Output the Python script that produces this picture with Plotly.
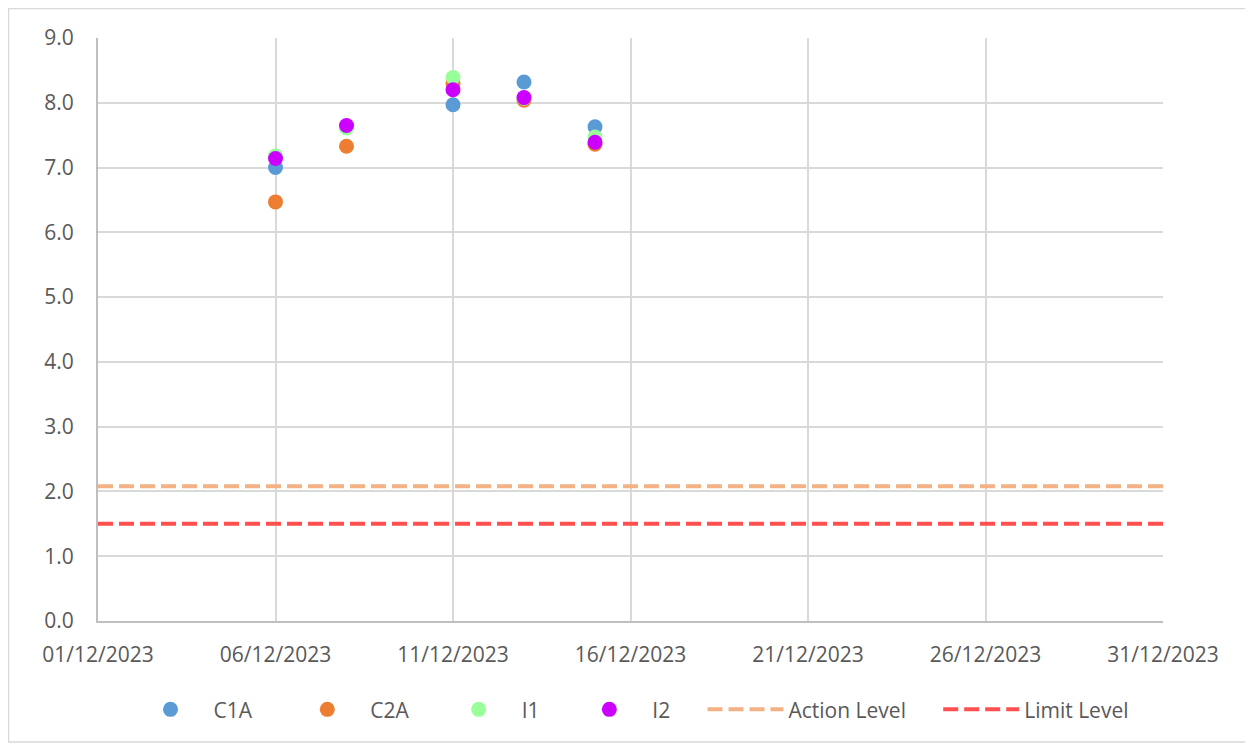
import plotly.graph_objects as go

dates = ["2023-12-06", "2023-12-08", "2023-12-11", "2023-12-13", "2023-12-15"]
c1a = [7.00, 7.62, 7.97, 8.32, 7.63]
c2a = [6.47, 7.33, 8.30, 8.04, 7.36]
i1 = [7.18, 7.61, 8.39, 8.07, 7.47]
i2 = [7.14, 7.65, 8.20, 8.08, 7.39]
level_dates = ["2023-12-01", "2023-12-31"]
action_level = [2.08, 2.08]
limit_level = [1.5, 1.5]

NB = "\u00a0"
# page body has an 8px margin, so the figure is offset by 8px
W, H = 1245, 741
ML, MR, MT, MB = 90, 90, 30, 128
pw, ph = W - ML - MR, H - MT - MB

fig = go.Figure()
series = [("C1A", c1a, "#5B9BD5", 5), ("C2A", c2a, "#ED7D31", 4),
          ("I1", i1, "#99FF99", 4), ("I2", i2, "#CC00FF", 5)]
for name, vals, col, pad in series:
    fig.add_trace(go.Scatter(x=dates, y=vals, name=name + NB * pad, mode="markers",
                             marker=dict(size=15, color=col, line=dict(width=0))))
fig.add_trace(go.Scatter(x=level_dates, y=action_level, name="Action Level" + NB * 5, mode="lines",
                         line=dict(color="#F4B183", width=4, dash="15px,6px")))
fig.add_trace(go.Scatter(x=level_dates, y=limit_level, name="Limit Level", mode="lines",
                         line=dict(color="#FF5050", width=4, dash="15px,6px")))

font = dict(family="Open Sans, sans-serif", size=21, color="#595959")
fig.update_layout(
    width=W, height=H,
    margin=dict(l=ML, r=MR, t=MT, b=MB),
    paper_bgcolor="white", plot_bgcolor="white",
    font=font,
    legend=dict(orientation="h", x=0.5, xanchor="center", y=-0.117, yanchor="top",
                font=font, itemwidth=76, tracegroupgap=0),
    showlegend=True,
)
fig.update_xaxes(type="date", range=["2023-12-01", "2023-12-31"],
                 tick0="2023-12-01", dtick=5 * 86400000, tickformat="%d/%m/%Y",
                 showgrid=True, gridcolor="#D9D9D9", gridwidth=2,
                 showline=True, linecolor="#BFBFBF", linewidth=2,
                 zeroline=False, ticks="", ticklabelstandoff=14,
                 tickfont=font, fixedrange=True)
fig.update_yaxes(range=[0, 9], dtick=1, tickformat=".1f",
                 showgrid=True, gridcolor="#D9D9D9", gridwidth=2,
                 showline=True, linecolor="#BFBFBF", linewidth=2,
                 zeroline=False, ticks="", ticklabelstandoff=18,
                 tickfont=font, fixedrange=True)

x0 = (0.5 - ML) / pw
x1 = (1238 - ML) / pw
y0 = ((H - MB) - 734) / ph
y1 = ((H - MB) - 0.5) / ph
fig.add_shape(type="rect", xref="paper", yref="paper", x0=x0, x1=x1, y0=y0, y1=y1,
              line=dict(color="#D9D9D9", width=1.5), fillcolor="rgba(0,0,0,0)", layer="below")

fig.write_html("out.html")
